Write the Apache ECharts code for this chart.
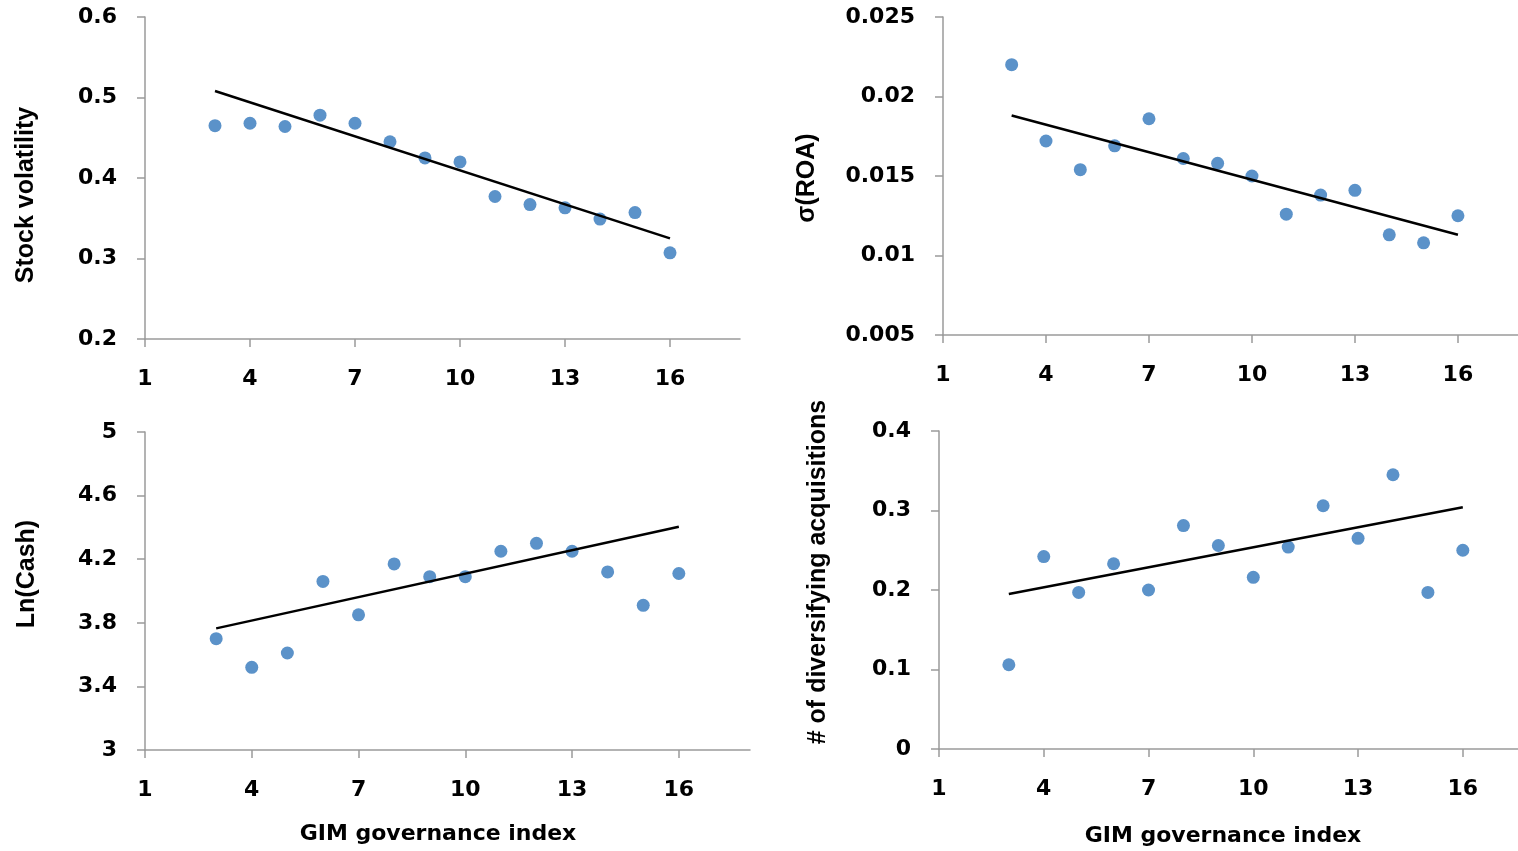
<!DOCTYPE html>
<html>
<head>
<meta charset="utf-8">
<script src="https://cdn.jsdelivr.net/npm/echarts@6/dist/echarts.min.js"></script>
<style>
  html, body { margin: 0; padding: 0; background: #fff; }
  #chart { width: 1518px; height: 851px; }
</style>
</head>
<body>
<div id="chart"></div>
<script>
// GIM index groups (x values)
var gimIndex = [3, 4, 5, 6, 7, 8, 9, 10, 11, 12, 13, 14, 15, 16];
var xTicks = [1, 4, 7, 10, 13, 16];
var trendX = [3, 16];

// panel 1: stock volatility
var stockVol = [0.465, 0.468, 0.464, 0.478, 0.468, 0.445, 0.425, 0.420, 0.377, 0.367, 0.363, 0.349, 0.357, 0.307];
var stockVolTrend = [0.508, 0.325];
var stockVolTicks = [0.2, 0.3, 0.4, 0.5, 0.6];

// panel 2: sigma(ROA)
var sigmaRoa = [0.0220, 0.0172, 0.0154, 0.0169, 0.0186, 0.0161, 0.0158, 0.0150, 0.0126, 0.0138, 0.0141, 0.0113, 0.0108, 0.0125];
var sigmaRoaTrend = [0.0188, 0.0113];
var sigmaRoaTicks = [0.005, 0.01, 0.015, 0.02, 0.025];

// panel 3: ln(cash)
var lnCash = [3.70, 3.52, 3.61, 4.06, 3.85, 4.17, 4.09, 4.09, 4.25, 4.30, 4.25, 4.12, 3.91, 4.11];
var lnCashTrend = [3.765, 4.404];
var lnCashTicks = [3, 3.4, 3.8, 4.2, 4.6, 5];

// panel 4: # of diversifying acquisitions
var divAcq = [0.106, 0.242, 0.197, 0.233, 0.200, 0.281, 0.256, 0.216, 0.254, 0.306, 0.265, 0.345, 0.197, 0.250];
var divAcqTrend = [0.195, 0.304];
var divAcqTicks = [0, 0.1, 0.2, 0.3, 0.4];

var dotColor = '#5b92c9';
var axisGray = '#9a9a9a';
var labelFont = { fontFamily: 'DejaVu Sans', fontWeight: 'bold', fontSize: 22, color: '#000' };

// right-hand panels run off the page edge, so their x max is cut where the page ends
var panels = [
	{ vals: stockVol, trend: stockVolTrend, ticks: stockVolTicks, xMax: 18, grid: { left: 145, top: 17, width: 595, height: 322 } },
	{ vals: sigmaRoa, trend: sigmaRoaTrend, ticks: sigmaRoaTicks, xMax: 17.75, grid: { left: 943, top: 17, width: 575, height: 318 } },
	{ vals: lnCash, trend: lnCashTrend, ticks: lnCashTicks, xMax: 18, grid: { left: 145, top: 432, width: 605, height: 318 } },
	{ vals: divAcq, trend: divAcqTrend, ticks: divAcqTicks, xMax: 17.58, grid: { left: 939, top: 431, width: 579, height: 318 } }
];

function pairs(xs, ys) {
	var out = [];
	for (var i = 0; i < xs.length; i++) out.push([xs[i], ys[i]]);
	return out;
}

var option = { animation: false, grid: [], xAxis: [], yAxis: [], series: [] };

for (var i = 0; i < panels.length; i++) {
	var p = panels[i];
	option.grid.push(p.grid);
	option.xAxis.push({
		type: 'value', gridIndex: i, min: 1, max: p.xMax,
		axisLine: { lineStyle: { color: axisGray, width: 1.5 } },
		axisTick: { customValues: xTicks, length: 8, lineStyle: { color: axisGray, width: 1.5 } },
		axisLabel: Object.assign({ customValues: xTicks, margin: 29 }, labelFont),
		splitLine: { show: false }
	});
	option.yAxis.push({
		type: 'value', gridIndex: i,
		min: p.ticks[0], max: p.ticks[p.ticks.length - 1],
		axisLine: { show: true, lineStyle: { color: axisGray, width: 1.5 } },
		axisTick: { show: true, customValues: p.ticks, length: 8, lineStyle: { color: axisGray, width: 1.5 } },
		axisLabel: Object.assign({ customValues: p.ticks, margin: 28 }, labelFont),
		splitLine: { show: false }
	});
	option.series.push({
		type: 'scatter', xAxisIndex: i, yAxisIndex: i,
		data: pairs(gimIndex, p.vals),
		symbolSize: 13,
		itemStyle: { color: dotColor, opacity: 1 }
	});
	// trend line
	option.series.push({
		type: 'line', xAxisIndex: i, yAxisIndex: i, z: 3,
		data: pairs(trendX, p.trend),
		symbol: 'none',
		lineStyle: { color: '#000', width: 2.5 }
	});
}

function titleText(txt, x, y, rotated) {
	return {
		type: 'text', x: x, y: y,
		rotation: rotated ? Math.PI / 2 : 0,
		style: {
			text: txt,
			fill: '#000',
			font: rotated ? 'bold 25px "Liberation Sans"' : 'bold 22px "DejaVu Sans"',
			align: 'center', verticalAlign: 'middle',
			textAlign: 'center', textVerticalAlign: 'middle'
		}
	};
}

option.graphic = [
	titleText('Stock volatility', 26, 195, true),
	titleText('σ(ROA)', 807, 178, true),
	titleText('Ln(Cash)', 27, 574, true),
	titleText('# of diversifying acquisitions', 818, 572, true),
	titleText('GIM governance index', 438, 834, false),
	titleText('GIM governance index', 1223, 836, false)
];

var chart = echarts.init(document.getElementById('chart'));
chart.setOption(option);
</script>
</body>
</html>
